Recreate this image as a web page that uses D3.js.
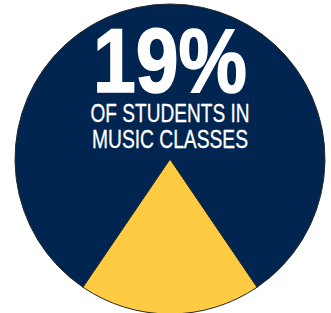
<!DOCTYPE html>
<html>
<head>
<meta charset="utf-8">
<script src="https://cdn.jsdelivr.net/npm/d3@7"></script>
<style>
  html, body { margin: 0; padding: 0; background: #fff; }
  svg { display: block; }
</style>
</head>
<body>
<div class="container"></div>
<script>
const categories = ['Music classes', 'Other'];
const values = [19, 81];
const headline = '19%';
const captionLines = ['OF STUDENTS IN', 'MUSIC CLASSES'];

const width = 331;
const height = 313;
const cx = 170;
const cy = 159;
const radius = 155;

const colors = d3.scaleOrdinal()
  .domain(categories)
  .range(['#FFCB42', '#002551']);

const total = d3.sum(values);
const share = values[0] / total;

// centre the highlighted slice on the bottom of the circle
const pie = d3.pie()
  .sort(null)
  .startAngle(Math.PI - share * Math.PI)
  .endAngle(Math.PI - share * Math.PI + 2 * Math.PI);

const arc = d3.arc().innerRadius(0).outerRadius(radius);

const svg = d3.select('.container')
  .append('svg')
  .attr('width', width)
  .attr('height', height);

const g = svg.append('g')
  .attr('transform', `translate(${cx}, ${cy})`);

g.selectAll('path')
  .data(pie(values))
  .enter()
  .append('path')
  .attr('d', arc)
  .attr('fill', (d, i) => colors(categories[i]))
  .attr('stroke', '#2a2a2a')
  .attr('stroke-width', 1);

// big number
svg.append('text')
  .attr('x', cx)
  .attr('y', 92)
  .attr('text-anchor', 'middle')
  .attr('font-family', '"Liberation Sans Narrow", "Arial Narrow", "Liberation Sans", sans-serif')
  .attr('font-weight', 'bold')
  .attr('font-size', 90)
  .attr('fill', '#fff')
  .attr('stroke', '#fff')
  .attr('stroke-width', 1.6)
  .attr('textLength', 154)
  .attr('lengthAdjust', 'spacingAndGlyphs')
  .text(headline);

// caption
svg.selectAll('.caption')
  .data(captionLines)
  .enter()
  .append('text')
  .attr('class', 'caption')
  .attr('x', cx)
  .attr('y', (d, i) => 122 + i * 26)
  .attr('text-anchor', 'middle')
  .attr('font-family', '"Liberation Sans Narrow", "Arial Narrow", "Liberation Sans", sans-serif')
  .attr('font-size', 25)
  .attr('fill', '#fff')
  .attr('stroke', '#fff')
  .attr('stroke-width', 0.3)
  .attr('textLength', (d, i) => i === 0 ? 159 : 156)
  .attr('lengthAdjust', 'spacingAndGlyphs')
  .text(d => d);
</script>
</body>
</html>
